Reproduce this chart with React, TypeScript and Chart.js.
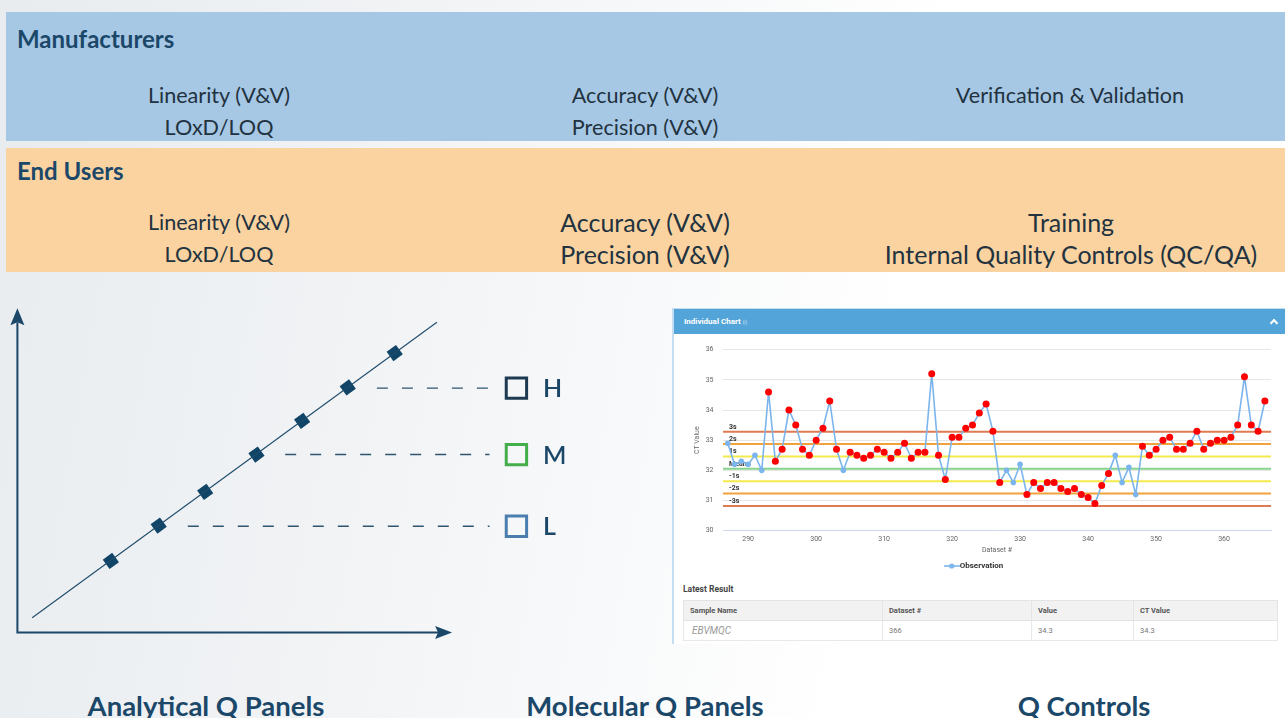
import React, { useEffect, useRef } from "react";
import { Chart, registerables } from "chart.js";

Chart.register(...registerables);

// ---------------- Banner content ----------------
const manufacturerCol1 = ["Linearity (V&V)", "LOxD/LOQ"];
const manufacturerCol2 = ["Accuracy (V&V)", "Precision (V&V)"];
const manufacturerCol3 = ["Verification & Validation"];
const endUserCol1 = ["Linearity (V&V)", "LOxD/LOQ"];
const endUserCol2 = ["Accuracy (V&V)", "Precision (V&V)"];
const endUserCol3 = ["Training", "Internal Quality Controls (QC/QA)"];
const panelTitles = ["Analytical Q Panels", "Molecular Q Panels", "Q Controls"];

// ---------------- Linearity diagram (schematic units 0..100) ----------------
const calibratorX = [21.5, 32.5, 43.2, 55.0, 65.5, 76.0, 86.8];
const calibratorY = [22.1, 33.0, 43.4, 54.9, 65.3, 75.6, 86.2];
const fitLineX = [3.4, 96.5];
const fitLineY = [4.6, 95.7];
const qcLevelNames = ["H", "M", "L"];
const qcLevelValues = [75.4, 54.9, 32.8];
const qcDashStart = [82.7, 61.6, 39.2];
const qcDashEnd = 108.6;
const qcMarkerX = 114.8;
const qcLabelX = 120.9;
const diagramAxisMax = 100;
const diagramXMax = 130;

// ---------------- Control chart ----------------
const firstDataset = 287;
const ctValues = [
  32.9, 32.2, 32.3, 32.2, 32.5, 32.0, 34.6, 32.3, 32.7, 34.0,
  33.5, 32.7, 32.5, 33.0, 33.4, 34.3, 32.7, 32.0, 32.6, 32.5,
  32.4, 32.5, 32.7, 32.6, 32.4, 32.6, 32.9, 32.4, 32.6, 32.6,
  35.2, 32.5, 31.7, 33.1, 33.1, 33.4, 33.5, 33.9, 34.2, 33.3,
  31.6, 32.0, 31.6, 32.2, 31.2, 31.6, 31.4, 31.6, 31.6, 31.4,
  31.3, 31.4, 31.2, 31.1, 30.9, 31.5, 31.9, 32.5, 31.6, 32.1,
  31.2, 32.8, 32.5, 32.7, 33.0, 33.1, 32.7, 32.7, 32.9, 33.3,
  32.7, 32.9, 33.0, 33.0, 33.1, 33.5, 35.1, 33.5, 33.3, 34.3,
];
// 1 = flagged by a control rule (red marker), 0 = in control
const ruleFlags = [
  0, 0, 0, 0, 0, 0, 1, 1, 1, 1,
  1, 1, 1, 1, 1, 1, 1, 0, 1, 1,
  1, 1, 1, 1, 1, 1, 1, 1, 1, 1,
  1, 1, 1, 1, 1, 1, 1, 1, 1, 1,
  1, 0, 0, 0, 1, 1, 1, 1, 1, 1,
  1, 1, 1, 1, 1, 1, 1, 0, 0, 0,
  0, 1, 1, 1, 1, 1, 1, 1, 1, 1,
  1, 1, 1, 1, 1, 1, 1, 1, 1, 1,
];
const limitLabels = ["3s", "2s", "1s", "Mean", "-1s", "-2s", "-3s"];
const limitValues = [33.28, 32.87, 32.46, 32.05, 31.64, 31.23, 30.82];
const xTickValues = [290, 300, 310, 320, 330, 340, 350, 360];
const xAxisMin = 286.3;
const xAxisMax = 366.9;
const yAxisMin = 30;
const yAxisMax = 36;
const tableHeaders = ["Sample Name", "Dataset #", "Value", "CT Value"];
const latestRow = ["EBVMQC", "366", "34.3", "34.3"];

// ---------------- Styles ----------------
const NAVY = "#1B4769";
const limitColors = ["#DE7B52", "#F2A23A", "#F4EA4C", "#86D48C", "#F4EA4C", "#F2A23A", "#DE7B52"];
const qcColors = ["#1D3A52", "#44AE4A", "#4A7EAE"];
const OBS = "#7CB5EC";

function LinearityDiagram() {
  const ref = useRef<HTMLCanvasElement | null>(null);
  useEffect(() => {
    const canvas = ref.current!;
    const axisPlugin = {
      id: "axisArrows",
      afterDraw(chart: any) {
        const { ctx, scales } = chart;
        const x0 = scales.x.getPixelForValue(0);
        const y0 = scales.y.getPixelForValue(0);
        const xt = scales.x.getPixelForValue(diagramAxisMax);
        const yt = scales.y.getPixelForValue(diagramAxisMax);
        ctx.save();
        ctx.strokeStyle = NAVY;
        ctx.fillStyle = NAVY;
        ctx.lineWidth = 2;
        ctx.beginPath();
        ctx.moveTo(x0, y0);
        ctx.lineTo(x0, yt + 14);
        ctx.moveTo(x0 - 1, y0);
        ctx.lineTo(xt - 14, y0);
        ctx.stroke();
        ctx.beginPath();
        ctx.moveTo(x0, yt);
        ctx.lineTo(x0 - 7, yt + 17);
        ctx.lineTo(x0, yt + 14);
        ctx.lineTo(x0 + 7, yt + 17);
        ctx.closePath();
        ctx.fill();
        ctx.beginPath();
        ctx.moveTo(xt, y0);
        ctx.lineTo(xt - 17, y0 - 6.5);
        ctx.lineTo(xt - 14, y0);
        ctx.lineTo(xt - 17, y0 + 6.5);
        ctx.closePath();
        ctx.fill();
        ctx.font = "600 25px Lato";
        ctx.textBaseline = "middle";
        ctx.textAlign = "left";
        qcLevelNames.forEach((n, i) => {
          ctx.fillText(n, scales.x.getPixelForValue(qcLabelX), scales.y.getPixelForValue(qcLevelValues[i]) + 1);
        });
        ctx.restore();
      },
    };
    const dashSets = qcLevelNames.map((n, i) => ({
      label: "dash " + n,
      data: [
        { x: qcDashStart[i], y: qcLevelValues[i] },
        { x: qcDashEnd, y: qcLevelValues[i] },
      ],
      showLine: true,
      borderColor: "#2E5470",
      borderWidth: 1.4,
      borderDash: [11, 14],
      pointRadius: 0,
    }));
    const chart = new Chart(canvas, {
      type: "scatter",
      data: {
        datasets: [
          {
            label: "fit",
            data: fitLineX.map((x, i) => ({ x, y: fitLineY[i] })),
            showLine: true,
            borderColor: "#1E4B6B",
            borderWidth: 1.1,
            pointRadius: 0,
          },
          {
            label: "calibrators",
            data: calibratorX.map((x, i) => ({ x, y: calibratorY[i] })),
            pointStyle: "rect",
            rotation: -36,
            pointRadius: 8.2,
            backgroundColor: "#114568",
            borderWidth: 0,
          },
          ...dashSets,
          {
            label: "qc",
            data: qcLevelValues.map((y) => ({ x: qcMarkerX, y })),
            pointStyle: "rect",
            pointRadius: 14.4,
            borderWidth: 3,
            borderColor: qcColors,
            backgroundColor: "rgba(255,255,255,0)",
          },
        ],
      },
      options: {
        animation: false,
        responsive: false,
        devicePixelRatio: 1,
        events: [],
        layout: { padding: { left: 15.3, right: 17.5, top: 18.3, bottom: 15 } },
        scales: {
          x: { type: "linear", min: 0, max: diagramXMax, display: false },
          y: { type: "linear", min: 0, max: diagramAxisMax, display: false },
        },
        plugins: { legend: { display: false }, tooltip: { enabled: false } },
      } as any,
      plugins: [axisPlugin],
    });
    return () => chart.destroy();
  }, []);
  return (
    <canvas
      ref={ref}
      width={600}
      height={360}
      style={{ position: "absolute", left: 0, top: 290, width: 600, height: 360 }}
    />
  );
}

function ControlChart() {
  const ref = useRef<HTMLCanvasElement | null>(null);
  useEffect(() => {
    const canvas = ref.current!;
    const marker = document.createElement("canvas");
    marker.width = 16;
    marker.height = 8;
    const mc = marker.getContext("2d")!;
    mc.strokeStyle = OBS;
    mc.lineWidth = 1.6;
    mc.beginPath();
    mc.moveTo(0, 4);
    mc.lineTo(16, 4);
    mc.stroke();
    mc.fillStyle = OBS;
    mc.beginPath();
    mc.arc(8, 4, 2.6, 0, Math.PI * 2);
    mc.fill();

    const limitLabelPlugin = {
      id: "limitLabels",
      beforeDatasetsDraw(chart: any) {
        const { ctx, chartArea, scales } = chart;
        ctx.save();
        ctx.font = "bold 7px Roboto";
        ctx.fillStyle = "#333333";
        ctx.textAlign = "left";
        ctx.textBaseline = "bottom";
        limitLabels.forEach((l, i) => {
          ctx.fillText(l, chartArea.left + 6, scales.y.getPixelForValue(limitValues[i]) - 1.5);
        });
        ctx.restore();
      },
    };

    const limitSets = limitLabels.map((l, i) => ({
      label: l,
      data: [
        { x: xAxisMin, y: limitValues[i] },
        { x: xAxisMax, y: limitValues[i] },
      ],
      borderColor: limitColors[i],
      borderWidth: 2,
      pointRadius: 0,
      order: 2,
    }));

    const chart = new Chart(canvas, {
      type: "line",
      data: {
        datasets: [
          {
            label: "Observation",
            data: ctValues.map((v, i) => ({ x: firstDataset + i, y: v })),
            borderColor: OBS,
            borderWidth: 1.6,
            pointRadius: ruleFlags.map((f) => (f ? 3.5 : 2.8)),
            pointBackgroundColor: ruleFlags.map((f) => (f ? "#FF0000" : OBS)),
            pointBorderWidth: 0,
            tension: 0,
            order: 0,
          },
          ...limitSets,
        ],
      },
      options: {
        animation: false,
        responsive: false,
        devicePixelRatio: 1,
        events: [],
        layout: { padding: { left: 0, right: 9, top: 13, bottom: 0 } },
        scales: {
          x: {
            type: "linear",
            min: xAxisMin,
            max: xAxisMax,
            afterBuildTicks: (scale: any) => {
              scale.ticks = xTickValues.map((v) => ({ value: v }));
            },
            afterFit: (scale: any) => {
              scale.height = 25.3;
            },
            grid: { display: false, drawTicks: false },
            border: { color: "#CCD6EB", width: 1 },
            ticks: { font: { size: 7, family: "Roboto" }, color: "#666666", padding: 4, maxRotation: 0 },
            title: {
              display: true,
              text: "Dataset #",
              font: { size: 7, family: "Roboto" },
              color: "#666666",
              padding: { top: 2, bottom: 1.8 },
            },
          },
          y: {
            type: "linear",
            min: yAxisMin,
            max: yAxisMax,
            afterFit: (scale: any) => {
              scale.width = 43;
            },
            grid: { color: "#E6E6E6", drawTicks: false },
            border: { display: false },
            ticks: { stepSize: 1, font: { size: 7, family: "Roboto" }, color: "#666666", padding: 9.5 },
            title: {
              display: true,
              text: "CT Value",
              font: { size: 7, family: "Roboto" },
              color: "#666666",
              padding: { top: 12.8, bottom: 0 },
            },
          },
        },
        plugins: {
          tooltip: { enabled: false },
          legend: {
            position: "bottom",
            labels: {
              usePointStyle: true,
              pointStyle: marker,
              font: { size: 8, family: "Roboto", weight: "bold" },
              color: "#333333",
              padding: 6,
              filter: (item: any) => item.datasetIndex === 0,
            },
          },
        },
      } as any,
      plugins: [limitLabelPlugin],
    });
    return () => chart.destroy();
  }, []);
  return (
    <canvas
      ref={ref}
      width={600}
      height={244}
      style={{ position: "absolute", left: 680, top: 336, width: 600, height: 244 }}
    />
  );
}

const centered = (x: number, y: number, extra: React.CSSProperties = {}): React.CSSProperties => ({
  position: "absolute",
  left: x,
  top: y,
  transform: "translate(-50%, -50%)",
  whiteSpace: "nowrap",
  ...extra,
});

export default function App() {
  const itemStyle: React.CSSProperties = { fontFamily: "Lato", fontSize: 21.6, color: "#22323F" };
  const bigItem: React.CSSProperties = { fontFamily: "Lato", fontSize: 25, color: "#22323F" };
  const colX = [213, 639, 1064];
  const colWidths = [199, 149, 102, 144];
  return (
    <div
      style={{
        position: "absolute",
        left: 0,
        top: 0,
        width: 1285,
        height: 718,
        overflow: "hidden",
        background: "linear-gradient(100deg, #e8ecef 0%, #f1f3f5 30%, #f8f9fa 50%, #ffffff 68%)",
        fontFamily: "Lato",
      }}
    >
      {/* Manufacturers banner */}
      <div style={{ position: "absolute", left: 6, top: 12, width: 1279, height: 129, background: "#A6C8E5" }}>
        <div style={{ position: "absolute", left: 11, top: 26, transform: "translateY(-50%)", fontWeight: 700, fontSize: 24, color: NAVY, whiteSpace: "nowrap" }}>
          Manufacturers
        </div>
        {[manufacturerCol1, manufacturerCol2, manufacturerCol3].map((col, ci) =>
          col.map((t, ri) => (
            <div key={ci + "-" + ri} style={centered(colX[ci], 83 + ri * 32, itemStyle)}>
              {t}
            </div>
          ))
        )}
      </div>
      {/* End users banner */}
      <div style={{ position: "absolute", left: 6, top: 148, width: 1279, height: 124, background: "#FAD3A0" }}>
        <div style={{ position: "absolute", left: 11, top: 22, transform: "translateY(-50%)", fontWeight: 700, fontSize: 24, color: NAVY, whiteSpace: "nowrap" }}>
          End Users
        </div>
        {endUserCol1.map((t, ri) => (
          <div key={"a" + ri} style={centered(213, 74 + ri * 32, itemStyle)}>
            {t}
          </div>
        ))}
        {endUserCol2.map((t, ri) => (
          <div key={"b" + ri} style={centered(639, 74 + ri * 32, bigItem)}>
            {t}
          </div>
        ))}
        {endUserCol3.map((t, ri) => (
          <div key={"c" + ri} style={centered(1065, 74 + ri * 32, bigItem)}>
            {t}
          </div>
        ))}
      </div>

      <LinearityDiagram />

      {/* Control chart card */}
      <div
        style={{
          position: "absolute",
          left: 672,
          top: 308,
          width: 613,
          height: 336,
          background: "#ffffff",
          borderLeft: "2px solid #C4DDF1",
          borderTop: "1px solid #C4DDF1",
          boxSizing: "border-box",
        }}
      >
        <div style={{ position: "absolute", left: 0, top: 0, right: 0, height: 25, background: "#53A4D9" }}>
          <span style={{ position: "absolute", left: 10, top: 12, transform: "translateY(-50%)", fontFamily: "Roboto", fontWeight: 700, fontSize: 8, color: "#ffffff", whiteSpace: "nowrap" }}>
            Individual Chart <span style={{ fontSize: 4.5, fontWeight: 400, opacity: 0.75 }}>(i)</span>
          </span>
          <div
            style={{
              position: "absolute",
              left: 597,
              top: 11,
              width: 4,
              height: 4,
              borderTop: "2px solid #ffffff",
              borderLeft: "2px solid #ffffff",
              transform: "rotate(45deg)",
            }}
          />
        </div>
        <div style={{ position: "absolute", left: 9, top: 280, transform: "translateY(-50%)", fontFamily: "Roboto", fontWeight: 700, fontSize: 8.5, color: "#444444", whiteSpace: "nowrap" }}>
          Latest Result
        </div>
        <table
          style={{
            position: "absolute",
            left: 9,
            top: 291,
            width: 594,
            borderCollapse: "collapse",
            fontFamily: "Roboto",
            fontSize: 7.5,
            tableLayout: "fixed",
          }}
        >
          <colgroup>
            {colWidths.map((w, i) => (
              <col key={i} style={{ width: w }} />
            ))}
          </colgroup>
          <tbody>
            <tr style={{ height: 20, background: "#F2F2F2" }}>
              {tableHeaders.map((h) => (
                <td key={h} style={{ padding: "0 6px", border: "1px solid #E4E4E4", fontWeight: 700, color: "#555555", overflow: "hidden", whiteSpace: "nowrap" }}>
                  {h}
                </td>
              ))}
            </tr>
            <tr style={{ height: 20, background: "#ffffff" }}>
              {latestRow.map((v, i) => (
                <td
                  key={i}
                  style={{
                    padding: i === 0 ? "0 8px" : "0 6px",
                    border: "1px solid #E8E8E8",
                    color: i === 0 ? "#9A9A9A" : "#777777",
                    fontStyle: i === 0 ? "italic" : "normal",
                    fontSize: i === 0 ? 10 : 7.5,
                    whiteSpace: "nowrap",
                    overflow: "hidden",
                  }}
                >
                  {v}
                </td>
              ))}
            </tr>
          </tbody>
        </table>
      </div>
      <ControlChart />

      {/* Bottom panel titles */}
      {panelTitles.map((t, i) => (
        <div key={t} style={centered([206, 645, 1084][i], 705, { fontFamily: "Lato", fontWeight: 700, fontSize: 27.5, color: NAVY })}>
          {t}
        </div>
      ))}
    </div>
  );
}
